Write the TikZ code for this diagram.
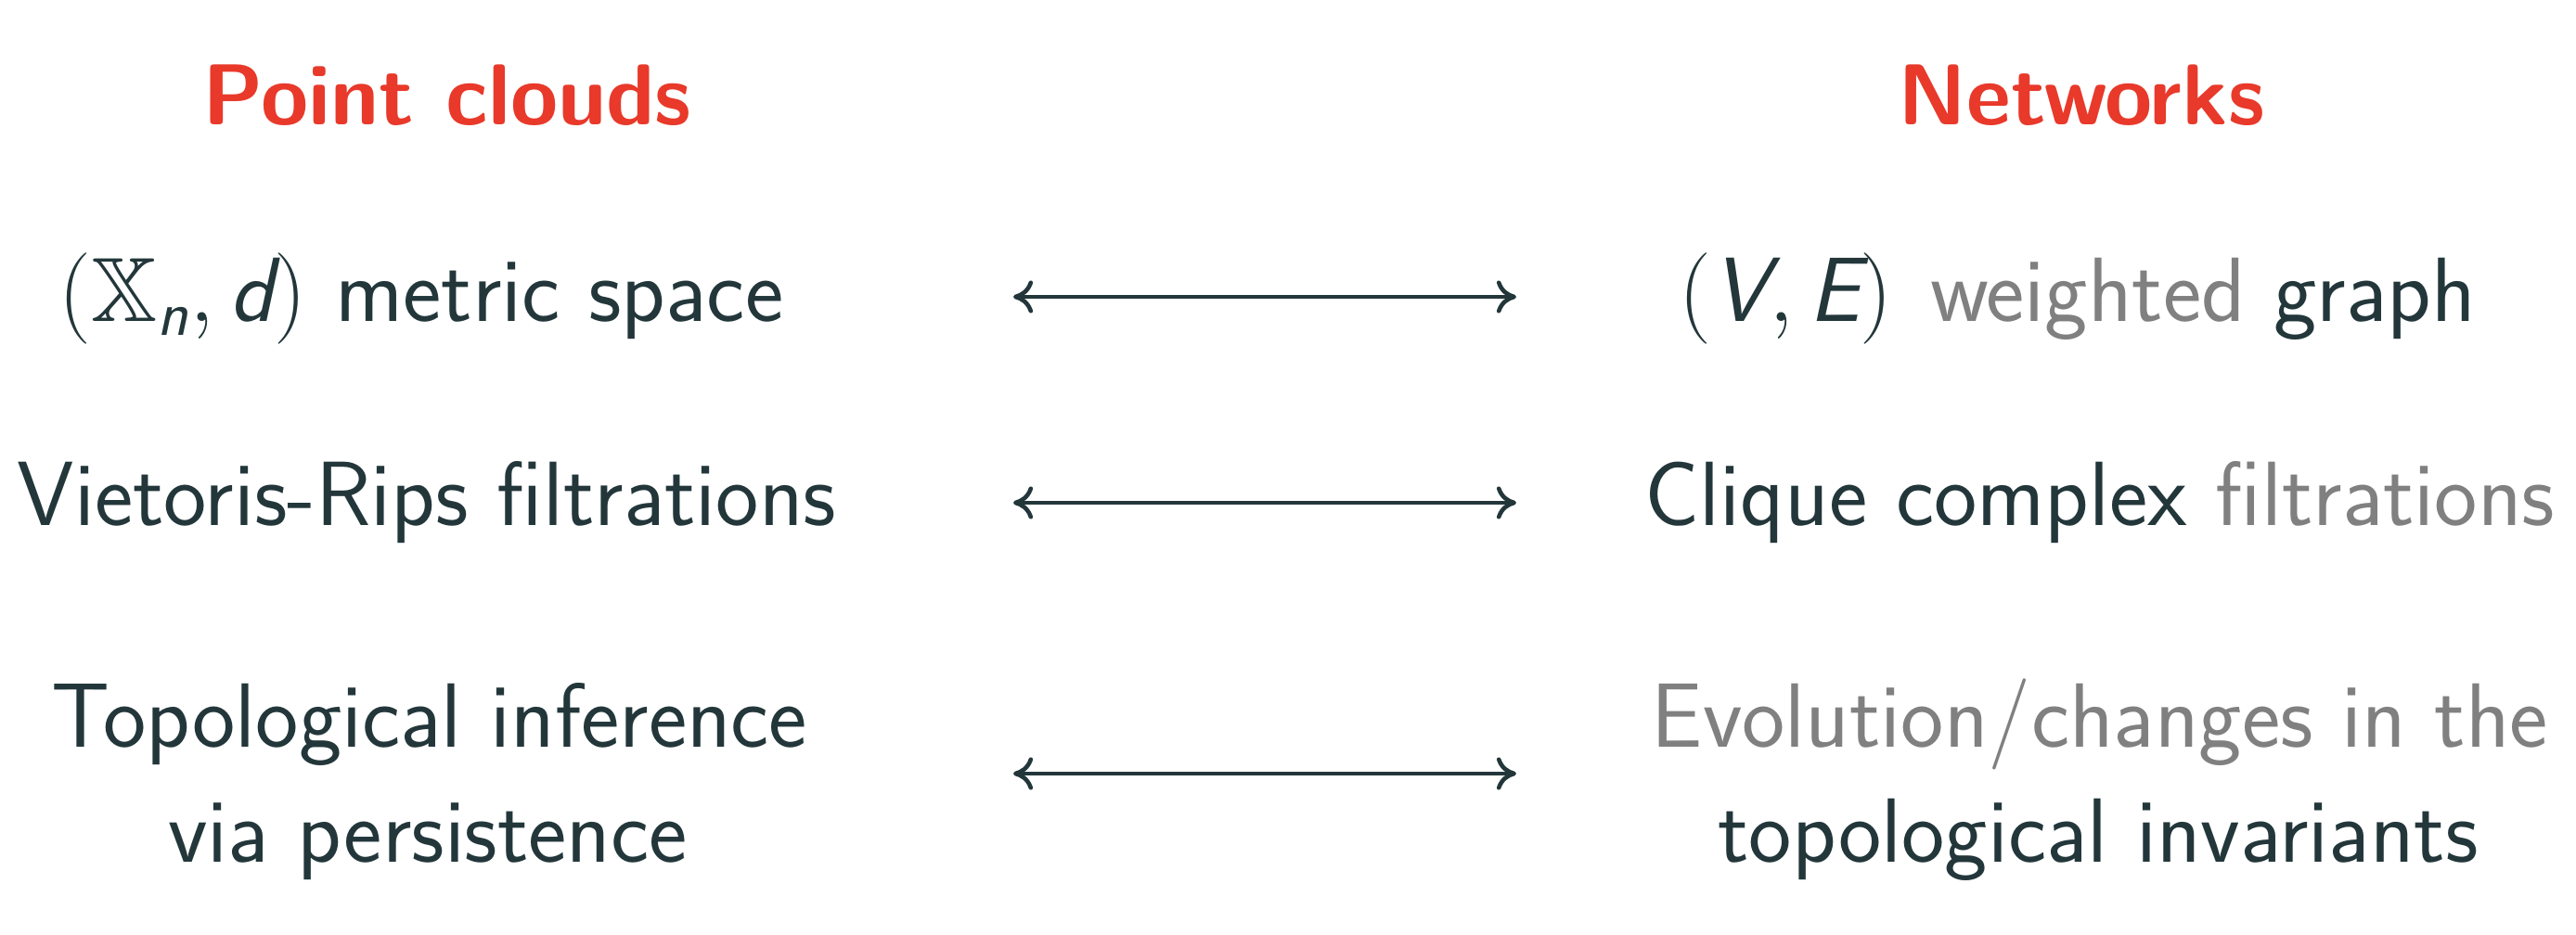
\RequirePackage{fix-cm}
\documentclass[tikz,border=0pt]{standalone}
\usepackage{amsmath}
\usepackage{amssymb}
\usepackage{fontspec}
\usetikzlibrary{arrows.meta}
\definecolor{txt}{HTML}{23373B}
\definecolor{alrt}{HTML}{E8392A}
\definecolor{dim}{HTML}{808080}
\tikzset{
 body/.style={anchor=base, text=txt, font=\fontsize{28}{33}\selectfont\sffamily, inner sep=0pt},
 head/.style={anchor=base, text=alrt, font=\fontsize{26.5}{31}\selectfont\sffamily\bfseries, inner sep=0pt},
 link/.style={draw=txt, line width=1.3pt, {To[length=6pt,width=10pt]}-{To[length=6pt,width=10pt]}}
}
\newcommand{\si}[1]{\text{\itshape #1}}
\begin{document}
\begin{tikzpicture}
\fill[white] (0,0) rectangle (27.76,-10.08);
\useasboundingbox (0,0) rectangle (27.76,-10.08);
\node[head] (pc) at (4.82,-1.345) {Point clouds};
\node[head] (nw) at (22.43,-1.345) {Networks};
\node[body] (l1) at (4.54,-3.47) {$(\mathbb{X}_{\si{n}},\si{d})$ metric space};
\node[body] (r1) at (22.39,-3.47) {$(\si{V},\si{E})$\hspace{0.1em} \textcolor{dim}{weighted} graph};
\node[body] (l2) at (4.60,-5.665) {Vietoris-Rips filtrations};
\node[body] (r2) at (22.63,-5.665) {Clique complex \textcolor{dim}{filtrations}};
\node[body] (l3a) at (4.63,-8.055) {Topological inference};
\node[body] (l3b) at (4.61,-9.295) {via persistence};
\node[body, text=dim] (r3a) at (22.63,-8.055) {Evolution/changes in the};
\node[body] (r3b) at (22.61,-9.295) {topological invariants};
\coordinate (a1l) at (10.92,-3.20);
\coordinate (a1r) at (16.34,-3.20);
\coordinate (a2l) at (10.92,-5.42);
\coordinate (a2r) at (16.34,-5.42);
\coordinate (a3l) at (10.92,-8.34);
\coordinate (a3r) at (16.34,-8.34);
\draw[link] (a1l) -- (a1r);
\draw[link] (a2l) -- (a2r);
\draw[link] (a3l) -- (a3r);
\end{tikzpicture}
\end{document}
